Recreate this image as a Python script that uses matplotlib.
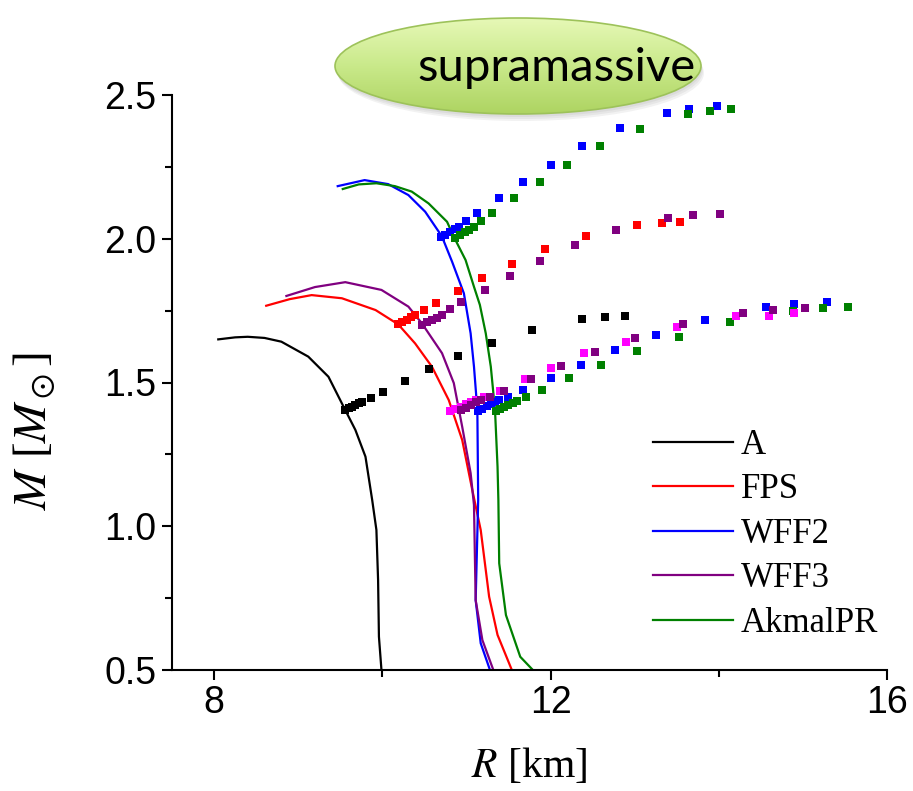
import numpy as np
import matplotlib
matplotlib.use("Agg")
import matplotlib.pyplot as plt
from matplotlib.patches import Ellipse
from matplotlib.colors import LinearSegmentedColormap
from matplotlib.ticker import MultipleLocator

# mass-radius curves (R in km, M in solar masses)
A_R = [8.05, 8.25, 8.40, 8.60, 8.80, 9.12, 9.36, 9.56, 9.68, 9.80, 9.88, 9.93, 9.95, 9.96, 9.99]
A_M = [1.650, 1.657, 1.659, 1.655, 1.642, 1.590, 1.520, 1.404, 1.335, 1.242, 1.091, 0.987, 0.813, 0.616, 0.500]

FPS_R = [8.62, 8.90, 9.16, 9.52, 9.92, 10.19, 10.39, 10.59, 10.79, 10.95, 11.07, 11.17, 11.27, 11.37, 11.54]
FPS_M = [1.767, 1.790, 1.804, 1.793, 1.752, 1.702, 1.636, 1.555, 1.439, 1.300, 1.126, 0.987, 0.755, 0.622, 0.500]

WFF2_R = [9.47, 9.79, 10.07, 10.31, 10.51, 10.67, 10.71, 10.83, 10.97, 11.05, 11.09, 11.13, 11.14, 11.11, 11.17, 11.28]
WFF2_M = [2.183, 2.204, 2.190, 2.152, 2.094, 2.025, 2.007, 1.920, 1.810, 1.671, 1.555, 1.404, 1.091, 0.743, 0.593, 0.500]

WFF3_R = [8.86, 9.20, 9.56, 9.99, 10.31, 10.47, 10.71, 10.85, 10.95, 11.05, 11.09, 11.11, 11.19, 11.32]
WFF3_M = [1.801, 1.832, 1.849, 1.822, 1.764, 1.706, 1.602, 1.498, 1.346, 1.185, 1.074, 0.743, 0.604, 0.500]

AK_R = [9.53, 9.72, 9.93, 10.15, 10.35, 10.55, 10.77, 10.85, 10.99, 11.09, 11.16, 11.23, 11.29, 11.34,
        11.37, 11.38, 11.39, 11.47, 11.64, 11.79]
AK_M = [2.173, 2.189, 2.193, 2.183, 2.164, 2.123, 2.059, 2.007, 1.926, 1.833, 1.770, 1.671, 1.555, 1.404,
        1.207, 1.091, 0.871, 0.691, 0.546, 0.500]

# rotating sequences (square markers)
A_rot_R = [9.56, 9.60, 9.64, 9.68, 9.72, 9.76, 9.87, 10.01, 10.27, 10.56, 10.90, 11.30, 11.78, 12.37, 12.65, 12.89]
A_rot_M = [1.404, 1.410, 1.416, 1.422, 1.428, 1.433, 1.447, 1.468, 1.506, 1.547, 1.592, 1.638, 1.684, 1.721, 1.729, 1.732]

FPS_hi_R = [10.19, 10.24, 10.29, 10.34, 10.39, 10.50, 10.64, 10.90, 11.19, 11.54, 11.94, 12.42, 13.03, 13.32, 13.54]
FPS_hi_M = [1.702, 1.710, 1.718, 1.727, 1.735, 1.752, 1.775, 1.817, 1.862, 1.913, 1.963, 2.011, 2.047, 2.055, 2.057]

FPS_lo_R = [10.81, 10.87, 10.93, 10.99, 11.05, 11.11, 11.21, 11.40, 11.70, 12.00, 12.40, 12.90, 13.50, 14.20, 14.60, 14.90]
FPS_lo_M = [1.402, 1.409, 1.416, 1.424, 1.431, 1.438, 1.449, 1.472, 1.511, 1.551, 1.602, 1.642, 1.692, 1.732, 1.732, 1.742]

WFF2_hi_R = [10.70, 10.75, 10.80, 10.86, 10.91, 11.00, 11.13, 11.39, 11.67, 12.00, 12.38, 12.83, 13.38, 13.65, 13.98]
WFF2_hi_M = [2.005, 2.014, 2.024, 2.033, 2.042, 2.062, 2.090, 2.141, 2.196, 2.258, 2.323, 2.386, 2.438, 2.451, 2.461]

WFF2_lo_R = [11.14, 11.19, 11.24, 11.29, 11.34, 11.39, 11.50, 11.67, 12.00, 12.36, 12.77, 13.25, 13.84, 14.56, 14.90, 15.29]
WFF2_lo_M = [1.402, 1.409, 1.417, 1.424, 1.432, 1.439, 1.451, 1.474, 1.516, 1.562, 1.612, 1.664, 1.717, 1.762, 1.773, 1.779]

WFF3_hi_R = [10.47, 10.53, 10.59, 10.65, 10.71, 10.80, 10.94, 11.22, 11.52, 11.87, 12.29, 12.78, 13.40, 13.69, 14.02]
WFF3_hi_M = [1.700, 1.709, 1.718, 1.726, 1.735, 1.755, 1.779, 1.822, 1.870, 1.923, 1.977, 2.030, 2.072, 2.083, 2.087]

WFF3_lo_R = [10.93, 10.99, 11.05, 11.11, 11.17, 11.28, 11.45, 11.77, 12.12, 12.53, 13.01, 13.58, 14.29, 14.64, 15.02]
WFF3_lo_M = [1.404, 1.413, 1.422, 1.431, 1.440, 1.449, 1.472, 1.512, 1.556, 1.605, 1.654, 1.703, 1.743, 1.753, 1.759]

AK_hi_R = [10.87, 10.92, 10.98, 11.03, 11.09, 11.17, 11.31, 11.57, 11.87, 12.20, 12.59, 13.06, 13.63, 13.90, 14.14]
AK_hi_M = [2.002, 2.012, 2.022, 2.032, 2.042, 2.061, 2.089, 2.141, 2.196, 2.258, 2.322, 2.383, 2.433, 2.445, 2.451]

AK_lo_R = [11.35, 11.40, 11.45, 11.50, 11.55, 11.60, 11.71, 11.90, 12.22, 12.60, 13.03, 13.53, 14.13, 14.88, 15.24, 15.54]
AK_lo_M = [1.402, 1.409, 1.416, 1.422, 1.429, 1.436, 1.450, 1.473, 1.515, 1.560, 1.609, 1.659, 1.709, 1.750, 1.759, 1.763]

plt.rcParams['mathtext.fontset'] = 'stix'

fig = plt.figure(figsize=(9.13, 7.91), dpi=100)
ax = fig.add_axes([172/913, 1 - 670/791, (887 - 172)/913, (670 - 95)/791])

lw = 1.6
ax.plot(A_R, A_M, color='black', lw=lw, label='A')
ax.plot(FPS_R, FPS_M, color='red', lw=lw, label='FPS')
ax.plot(WFF2_R, WFF2_M, color='blue', lw=lw, label='WFF2')
ax.plot(WFF3_R, WFF3_M, color='purple', lw=lw, label='WFF3')
ax.plot(AK_R, AK_M, color='green', lw=lw, label='AkmalPR')

ms = 5.6
pts = [(A_rot_R, A_rot_M, 'black'),
       (FPS_hi_R, FPS_hi_M, 'red'),
       (WFF2_hi_R, WFF2_hi_M, 'blue'),
       (AK_hi_R, AK_hi_M, 'green'),
       (WFF3_hi_R, WFF3_hi_M, 'purple'),
       (WFF2_lo_R, WFF2_lo_M, 'blue'),
       (AK_lo_R, AK_lo_M, 'green'),
       (FPS_lo_R, FPS_lo_M, 'magenta'),
       (WFF3_lo_R, WFF3_lo_M, 'purple')]
for r, m, c in pts:
    ax.plot(r, m, 's', color=c, ms=ms, mew=0)

ax.set_xlim(7.5, 16)
ax.set_ylim(0.5, 2.5)
ax.set_xticks([8, 12, 16])
ax.xaxis.set_minor_locator(MultipleLocator(2))
ax.set_yticks([0.5, 1.0, 1.5, 2.0, 2.5])
ax.yaxis.set_minor_locator(MultipleLocator(0.25))
ax.spines['top'].set_visible(False)
ax.spines['right'].set_visible(False)
for s in ['left', 'bottom']:
    ax.spines[s].set_linewidth(1.5)
ax.tick_params(which='major', length=7, width=1.5, labelsize=27, pad=4)
ax.tick_params(which='minor', length=5, width=1.5)
for lab in ax.get_xticklabels() + ax.get_yticklabels():
    lab.set_fontfamily('Liberation Sans')

ax.set_xlabel('$R$ [km]', fontsize=30, family='Liberation Serif', labelpad=18)
ax.set_ylabel(r'$M$ [$M_\odot$]', fontsize=34, family='Liberation Serif')
ax.yaxis.set_label_coords(-0.16, 0.415)

leg = ax.legend(loc='upper left', bbox_to_anchor=(653/913, 1 - 429/791),
                bbox_transform=fig.transFigure, frameon=False,
                prop={'family': 'Liberation Serif', 'size': 25},
                handlelength=2.3, handletextpad=0.22, labelspacing=0.33,
                borderpad=0, borderaxespad=0)

# "supramassive" bubble drawn over the plot
ax2 = fig.add_axes([320/913, 1 - 130/791, 400/913, 120/791], zorder=5)
ax2.set_xlim(320, 720)
ax2.set_ylim(130, 10)
ax2.axis('off')
for k, a in enumerate([0.10, 0.10, 0.10]):
    ax2.add_patch(Ellipse((519 + k, 69 + 2 * k), 366, 96, color='gray', alpha=a, lw=0))
ell = Ellipse((518, 66), 366, 96, facecolor='none', edgecolor='#9dc25a', lw=1.2, zorder=3)
ax2.add_patch(ell)
cmap = LinearSegmentedColormap.from_list('bubble', ['#e6f8b6', '#c9e98a', '#aed462'])
grad = np.linspace(0, 1, 100).reshape(-1, 1)
im = ax2.imshow(grad, extent=(335, 701, 114, 18), origin='upper', aspect='auto', cmap=cmap, zorder=2)
im.set_clip_path(ell)
ax2.set_xlim(320, 720)
ax2.set_ylim(130, 10)
ax2.text(557, 81, 'supramassive', fontsize=34, family='Lato', ha='center', va='baseline', zorder=4)

fig.savefig('out.png', dpi=100)
